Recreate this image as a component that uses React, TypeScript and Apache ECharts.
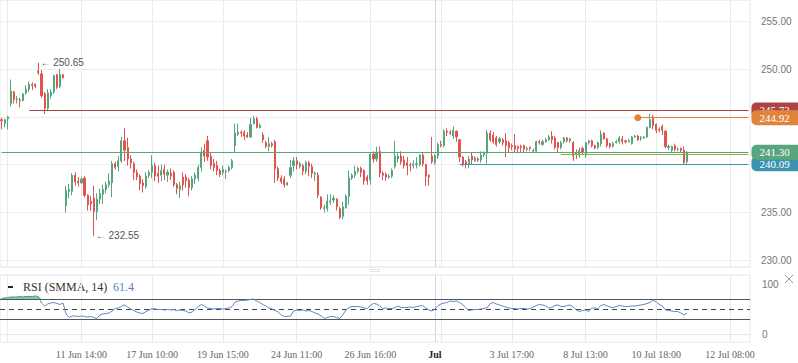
import React, { useEffect, useRef } from 'react';
import * as echarts from 'echarts';

// [open, close, low, high]
const candlesA: number[][] = [
  [244.7, 244.6, 243.7, 244.9], [244.3, 244.7, 243.9, 244.8], [244.8, 245.0, 243.7, 245.1],
  [246.4, 247.7, 246.1, 248.9], [247.6, 246.8, 246.4, 247.7], [246.8, 246.9, 246.4, 247.2],
  [246.8, 246.7, 246.0, 247.0], [246.7, 247.4, 246.6, 247.5], [247.5, 247.9, 247.3, 248.3],
  [247.9, 248.4, 247.6, 248.7], [248.4, 248.3, 247.8, 248.6], [248.4, 248.2, 248.0, 248.5],
  [249.8, 249.6, 249.4, 250.65], [249.5, 247.2, 247.0, 249.9], [247.4, 245.9, 245.3, 247.6],
  [245.9, 247.5, 245.6, 247.9], [247.2, 247.6, 246.9, 247.9], [247.6, 249.3, 247.4, 249.4],
  [249.4, 248.1, 247.9, 249.5], [248.2, 249.4, 248.0, 250.0], [249.4, 249.1, 249.0, 249.5],
];
const candlesB: number[][] = [
  [235.7, 237.3, 235.0, 237.8], [237.2, 237.4, 236.5, 238.0], [237.2, 238.9, 236.8, 239.1],
  [238.9, 238.2, 237.8, 239.2], [238.3, 238.1, 237.7, 238.7], [238.1, 238.5, 238.0, 238.7],
  [238.6, 236.8, 236.6, 238.8], [236.8, 235.8, 235.2, 236.9], [236.2, 235.9, 235.2, 236.7],
  [236.5, 235.1, 232.55, 237.8], [235.1, 236.4, 234.2, 237.0], [236.4, 237.0, 235.9, 237.5],
  [236.9, 237.4, 235.9, 237.9], [237.4, 237.9, 237.0, 238.2], [237.9, 238.3, 237.6, 239.1],
  [238.1, 240.1, 236.6, 240.4], [240.1, 239.7, 239.5, 240.3], [239.8, 240.4, 239.3, 240.9],
  [240.4, 242.5, 240.2, 242.9], [242.5, 241.5, 240.4, 243.8], [241.8, 240.6, 239.9, 242.8],
  [240.6, 240.2, 239.6, 241.0], [240.1, 239.2, 238.4, 240.3], [239.2, 238.7, 238.4, 239.5],
  [238.8, 238.0, 237.3, 239.0], [238.1, 237.8, 237.1, 238.5], [237.7, 238.8, 237.5, 239.2],
  [238.9, 239.2, 238.6, 239.4], [239.2, 239.9, 238.6, 241.0], [239.9, 238.8, 238.3, 240.2],
  [239.1, 238.8, 238.1, 239.9], [238.9, 239.4, 238.3, 240.0], [239.5, 239.0, 238.4, 240.0],
  [238.9, 239.2, 238.2, 239.5], [239.1, 238.8, 238.4, 239.6], [239.2, 237.9, 237.7, 239.4],
  [237.9, 237.5, 236.9, 238.1], [237.4, 237.8, 236.5, 238.2], [238.7, 237.9, 237.3, 239.2],
  [238.7, 238.3, 237.6, 239.0], [238.4, 237.6, 236.7, 238.6], [237.6, 238.5, 237.3, 238.8],
  [238.5, 238.9, 238.0, 239.2], [238.6, 239.7, 238.3, 240.0], [239.7, 241.3, 239.3, 241.8],
  [241.5, 240.9, 240.3, 242.2], [242.5, 240.8, 240.4, 243.0], [240.9, 239.9, 239.5, 241.2],
  [240.1, 239.7, 239.3, 240.6], [239.9, 239.4, 238.9, 240.4], [239.4, 239.0, 238.7, 239.6],
  [239.2, 239.5, 238.9, 239.9], [239.3, 239.3, 238.5, 239.5], [239.4, 239.7, 239.2, 239.9],
  [239.7, 240.4, 239.5, 240.6],
];
const candlesC: number[][] = [
  [242.0, 243.3, 241.3, 244.3], [243.2, 243.4, 243.0, 244.3], [243.4, 243.3, 242.9, 243.6],
  [243.4, 243.0, 242.6, 243.6], [243.1, 242.9, 242.8, 243.4], [242.9, 244.2, 242.8, 244.9],
  [244.3, 244.8, 244.2, 245.1], [244.8, 243.9, 243.8, 245.0], [243.9, 244.1, 243.8, 244.3],
  [243.1, 242.6, 242.3, 243.4], [242.3, 241.9, 241.7, 242.5], [241.9, 242.2, 241.4, 242.9],
  [242.2, 242.0, 241.8, 242.4], [242.4, 239.6, 238.1, 242.6], [239.6, 238.6, 238.3, 239.8],
  [238.6, 238.2, 238.0, 238.9], [238.5, 237.9, 237.6, 238.8], [237.9, 238.1, 237.8, 238.2],
  [238.9, 239.7, 238.6, 240.5], [239.9, 240.4, 239.3, 240.8], [240.4, 240.0, 239.5, 240.8],
  [239.8, 240.1, 239.6, 240.3], [239.9, 239.3, 238.9, 240.1], [239.3, 240.2, 239.0, 240.4],
  [240.2, 239.8, 238.8, 240.4], [239.8, 239.1, 238.6, 240.1], [239.0, 239.1, 238.3, 239.3],
  [238.9, 236.8, 236.5, 239.2], [236.6, 235.5, 235.3, 236.7], [235.4, 235.5, 235.0, 235.8],
  [235.4, 236.2, 235.1, 236.9], [236.1, 236.2, 235.8, 236.9], [236.3, 236.5, 236.0, 236.8],
  [236.4, 235.6, 235.2, 236.5], [235.4, 234.5, 234.3, 235.6], [234.6, 235.6, 234.3, 236.1],
  [235.5, 236.7, 235.4, 236.9], [236.7, 238.6, 235.8, 239.4], [238.6, 238.9, 238.4, 239.1],
  [238.9, 239.3, 238.6, 239.9], [239.3, 239.6, 239.1, 239.8], [239.6, 239.2, 238.7, 239.8],
  [239.4, 238.3, 237.9, 239.5], [238.7, 238.3, 237.9, 238.9], [238.4, 241.1, 237.9, 241.2],
];
const candlesD: number[][] = [
  [241.1, 240.6, 240.2, 241.4], [240.6, 241.3, 240.3, 241.9], [241.4, 239.1, 238.7, 241.9],
  [239.1, 238.9, 238.4, 239.3], [239.0, 238.7, 238.3, 239.2], [238.7, 238.8, 238.5, 239.0],
  [238.8, 239.4, 238.6, 239.6], [239.8, 240.9, 239.6, 242.5], [240.6, 240.9, 240.2, 241.2],
  [240.9, 240.3, 240.0, 241.4], [240.5, 239.9, 239.6, 240.9], [240.2, 239.9, 238.9, 240.8],
  [240.0, 239.9, 239.3, 240.2], [239.9, 240.1, 239.6, 240.5], [240.0, 240.1, 239.6, 240.8],
  [240.0, 241.0, 239.8, 241.1], [241.0, 240.1, 239.8, 241.3], [240.0, 238.8, 237.8, 240.1],
  [238.9, 238.7, 237.8, 239.0], [240.9, 240.3, 240.1, 242.9], [240.2, 240.9, 240.0, 241.1],
  [240.9, 242.1, 240.6, 242.3], [242.1, 242.0, 241.8, 242.5], [242.0, 243.5, 241.8, 243.7],
  [243.5, 243.4, 243.0, 243.8], [243.4, 243.3, 243.1, 243.6], [243.0, 243.6, 242.7, 244.0],
  [243.5, 242.9, 242.4, 243.6], [242.6, 240.8, 240.3, 242.7], [240.8, 240.0, 239.8, 240.9],
  [240.3, 240.1, 239.6, 240.5], [240.0, 240.6, 239.6, 240.9], [240.9, 240.5, 240.0, 241.3],
  [240.4, 240.7, 240.3, 240.9], [240.6, 240.5, 240.3, 240.8], [240.5, 241.0, 240.2, 241.4],
  [241.0, 241.2, 240.8, 241.4], [241.2, 243.3, 240.1, 243.6], [243.3, 242.6, 242.4, 243.6],
  [243.1, 242.4, 242.2, 243.4], [242.8, 242.1, 241.9, 243.0], [242.4, 242.7, 242.2, 242.9],
  [242.6, 242.3, 242.0, 242.8], [242.5, 242.0, 240.8, 243.3], [242.3, 241.8, 241.3, 242.5],
  [242.0, 241.9, 241.5, 242.2], [242.0, 241.6, 241.3, 243.2], [241.9, 241.7, 241.2, 242.0],
  [241.9, 241.8, 241.2, 242.1], [242.0, 241.6, 241.3, 242.1], [241.6, 241.7, 241.4, 241.9],
  [241.8, 241.7, 241.4, 241.9], [241.4, 241.5, 241.2, 241.7], [241.4, 242.4, 241.2, 242.5],
  [242.4, 242.3, 242.1, 242.6], [242.1, 242.4, 242.0, 242.6], [242.4, 242.6, 242.3, 242.8],
  [242.6, 242.9, 242.5, 243.1], [243.0, 242.6, 242.2, 243.5], [242.8, 241.8, 241.6, 243.0],
  [242.3, 241.8, 241.3, 242.4], [241.8, 242.3, 241.6, 242.5],
];
const candlesE: number[][] = [
  [242.4, 242.8, 242.2, 242.9], [242.8, 242.5, 242.3, 242.9], [242.5, 242.7, 242.3, 242.8],
  [242.3, 240.9, 240.4, 242.5], [241.2, 241.1, 240.6, 241.6], [241.0, 241.5, 240.7, 241.8],
  [241.7, 241.3, 241.0, 241.9], [241.0, 242.3, 240.7, 242.4], [242.3, 242.5, 242.1, 242.6],
  [242.5, 242.0, 241.8, 242.6], [242.0, 241.8, 241.6, 242.1], [241.8, 242.3, 241.6, 242.4],
  [242.2, 243.2, 241.9, 243.6], [243.3, 242.7, 242.6, 243.4], [242.7, 242.0, 241.8, 242.8],
  [242.2, 241.9, 241.7, 242.3], [241.9, 242.2, 241.8, 242.4], [242.3, 242.4, 242.2, 242.6],
  [242.4, 242.8, 242.2, 243.0], [242.7, 242.4, 242.1, 243.0], [242.5, 242.4, 242.2, 242.6],
  [242.4, 242.5, 242.3, 242.7], [242.2, 242.9, 242.1, 243.0], [242.9, 243.0, 242.8, 243.1],
  [243.0, 242.6, 242.5, 243.1], [242.7, 242.8, 242.5, 243.0], [242.8, 242.9, 242.7, 243.0],
  [242.9, 243.9, 242.8, 244.0], [243.9, 244.7, 243.8, 245.3], [245.0, 244.1, 243.7, 245.2],
  [244.2, 243.6, 243.3, 244.3], [243.7, 243.6, 243.4, 243.9], [244.0, 243.6, 243.1, 244.2],
  [243.5, 241.9, 241.7, 243.6], [241.8, 241.9, 241.5, 242.1], [241.5, 241.9, 241.3, 242.0],
  [242.0, 241.6, 241.4, 242.2], [241.6, 241.6, 241.4, 241.8], [241.7, 241.5, 241.3, 241.8],
  [241.5, 240.2, 240.09, 241.9], [240.3, 241.3, 240.1, 241.4],
];

const rsiValues: number[] = [
  71, 72, 73, 74, 74, 74, 75, 74, 75, 75, 75, 76, 75, 62, 56, 60, 62, 63, 61, 59, 62,
  40, 33, 36, 36, 35, 36, 35, 34, 35, 33, 31, 38, 40, 41, 42, 46, 51, 52, 55, 58,
  54, 50, 47, 44, 42, 41, 45, 48, 51, 50, 49, 49, 48, 49, 48, 49, 47, 48, 47, 46,
  42, 44, 49, 55, 59, 56, 52, 51, 50, 51, 51, 50, 51, 52, 55, 64, 66, 67, 67, 68,
  69, 70, 66, 63, 59, 56, 52, 50, 47, 44, 38, 35, 35, 36, 46, 48, 47, 48, 46, 47,
  45, 42, 40, 36, 31, 33, 35, 35, 33, 31, 38, 48, 53, 55, 55, 55, 54, 52, 51, 57,
  61, 60, 56, 51, 52, 51, 51, 53, 56, 53, 53, 53, 54, 53, 55, 56, 57, 52, 48, 46,
  50, 57, 60, 62, 63, 66, 65, 66, 63, 59, 53, 47, 48, 49, 49, 50, 51, 53, 61, 63,
  60, 58, 56, 54, 52, 51, 51, 50, 51, 51, 50, 51, 54, 57, 59, 58, 56, 52, 53, 57,
  58, 55, 55, 57, 58, 54, 48, 45, 47, 48, 45, 52, 52, 51, 57, 59, 56, 54, 53, 55,
  57, 56, 55, 55, 56, 56, 57, 58, 59, 61, 63, 68, 64, 59, 56, 48, 47, 46, 45, 45, 42, 38, 42,
];
const rsiLast = 61.4;
const rsiLevels = [70, 50, 30];

const tickIndex = [26, 49, 72, 96, 120, 141, 166, 190, 213, 237];
const tickLabels = ['11 Jun 14:00', '17 Jun 10:00', '19 Jun 15:00', '24 Jun 11:00', '26 Jun 16:00', 'Jul', '3 Jul 17:00', '8 Jul 13:00', '10 Jul 18:00', '12 Jul 08:00'];
const gridLineIndex = [2, 26, 49, 72, 96, 120, 143, 166, 190, 213, 237];
const monthLineIndex = 141;

const priceTicks = [230, 235, 250, 255];
const rsiTicks = [0, 100];

const levelValues = [245.73, 244.92, 241.04, 240.09, 241.3];
const levelStartIndex = [9, 207, 182, 149, 0];
const levelTagged = [true, true, false, true, true];
const levelColors = ['#ad4543', '#e0843c', '#8cb23c', '#3b93ae', '#58a67d'];

const annotationIndex = [12, 30];
const annotationValues = [250.65, 232.55];

const slotCount = 244;

export default function App() {
  const ref = useRef<HTMLDivElement>(null);
  useEffect(() => {
    if (!ref.current) return;
    const chart = echarts.init(ref.current, null, { renderer: 'svg' });
    const candles = [...candlesA, ...candlesB, ...candlesC, ...candlesD, ...candlesE];
    const categories = Array.from({ length: slotCount }, (_, i) => `bar${i}`);
    const up = '#55a57d';
    const down = '#e0544f';
    const vGrid = [
      ...gridLineIndex.map((i) => ({ xAxis: categories[i], lineStyle: { color: '#e8ebee', width: 1, type: 'solid' } })),
      { xAxis: categories[monthLineIndex], lineStyle: { color: '#d2d5d9', width: 1, type: 'solid' } },
    ];
    const levelData = levelValues.map((v, k) => {
      const color = levelColors[k];
      return [
        {
          coord: [categories[levelStartIndex[k]], v],
          symbol: k === 1 ? 'circle' : 'none',
          symbolSize: 7,
          itemStyle: { color },
          lineStyle: { color, width: 1, type: 'solid' },
          label: levelTagged[k]
            ? {
                show: true,
                position: 'end',
                distance: 3,
                formatter: v.toFixed(2),
                color: '#fff',
                backgroundColor: color,
                fontSize: 11,
                fontFamily: 'Liberation Serif',
                lineHeight: 12,
                padding: [2, 12, 1, 8],
                borderRadius: [5, 0, 0, 5],
              }
            : { show: false },
        },
        { coord: [categories[slotCount - 1], v], symbol: 'none' },
      ];
    });
    const labelFor = (i: number) => {
      const k = tickIndex.indexOf(i);
      if (k < 0) return '';
      const t = tickLabels[k];
      return t === 'Jul' ? '{m|Jul}' : t;
    };

    const option: any = {
      animation: false,
      backgroundColor: '#ffffff',
      grid: [
        { left: -1, width: 751, top: -1, height: 268, show: true, borderColor: '#e3e6e9', borderWidth: 1 },
        { left: -1, width: 751, top: 275, height: 67, show: true, borderColor: '#e3e6e9', borderWidth: 1 },
      ],
      xAxis: [
        {
          type: 'category', gridIndex: 0, data: categories, boundaryGap: true,
          axisLine: { show: false }, axisTick: { show: false }, axisLabel: { show: false }, splitLine: { show: false },
        },
        {
          type: 'category', gridIndex: 1, data: categories, boundaryGap: true,
          axisLine: { show: false }, axisTick: { show: false }, splitLine: { show: false },
          axisLabel: {
            interval: (i: number) => tickIndex.includes(i),
            formatter: (_v: string, i: number) => labelFor(i),
            color: '#666', fontSize: 10, fontFamily: 'Liberation Serif', margin: 7,
            rich: { m: { fontWeight: 'bold', color: '#222', fontSize: 10, fontFamily: 'Liberation Serif' } },
          },
        },
      ],
      yAxis: [
        {
          type: 'value', gridIndex: 0, position: 'right', min: 229.3, max: 257.22,
          axisLine: { show: false }, axisTick: { show: false },
          splitLine: { show: true, lineStyle: { color: '#eceff2' } },
          axisLabel: {
            customValues: priceTicks,
            formatter: (v: number) => (priceTicks.includes(Math.round(v * 100) / 100) ? v.toFixed(2) : ''),
            color: '#777', fontSize: 10, fontFamily: 'Liberation Sans', margin: 11,
          },
        },
        {
          type: 'value', gridIndex: 1, position: 'right', min: -16, max: 118,
          axisLine: { show: false }, axisTick: { show: false }, splitLine: { show: false },
          axisLabel: {
            customValues: rsiTicks,
            formatter: (v: number) => (rsiTicks.includes(v) ? String(v) : ''),
            color: '#777', fontSize: 10, fontFamily: 'Liberation Sans', margin: 12,
          },
        },
      ],
      series: [
        {
          type: 'candlestick', name: 'price', xAxisIndex: 0, yAxisIndex: 0, data: candles,
          barWidth: 1.6, z: 2,
          itemStyle: { color: up, color0: down, borderColor: up, borderColor0: down, borderColorDoji: '#888', borderWidth: 1 },
          markLine: { silent: true, z: 1, symbol: ['none', 'none'], label: { show: false }, data: vGrid },
          markPoint: {
            silent: true, symbol: 'circle', symbolSize: 0,
            label: { show: true, position: 'right', distance: 2, color: '#555', fontSize: 10, fontFamily: 'Liberation Sans' },
            data: annotationIndex.map((i, k) => ({
              coord: [categories[i], annotationValues[k]],
              label: { formatter: '\u2190 ' + annotationValues[k].toFixed(2) },
            })),
          },
        },
        {
          type: 'line', name: 'levels', xAxisIndex: 0, yAxisIndex: 0, data: [], z: 4,
          markLine: { silent: true, z: 6, symbol: ['none', 'none'], data: levelData },
        },
        {
          type: 'line', name: 'obBase', xAxisIndex: 1, yAxisIndex: 1, stack: 'ob', symbol: 'none',
          data: rsiValues.map(() => rsiLevels[0]), lineStyle: { opacity: 0 }, z: 1,
        },
        {
          type: 'line', name: 'obFill', xAxisIndex: 1, yAxisIndex: 1, stack: 'ob', symbol: 'none',
          data: rsiValues.map((v) => Math.max(0, v - rsiLevels[0])), lineStyle: { opacity: 0 },
          areaStyle: { color: '#7fd57f', opacity: 1 }, z: 1,
        },
        {
          type: 'line', name: 'RSI', xAxisIndex: 1, yAxisIndex: 1, data: rsiValues, symbol: 'none', showSymbol: false,
          lineStyle: { color: '#5b86c5', width: 1 }, z: 3,
          markLine: {
            silent: true, z: 1, symbol: ['none', 'none'], label: { show: false },
            data: [
              ...vGrid,
              { yAxis: 0, lineStyle: { color: '#e6e9ec', width: 1, type: 'solid' } },
              { yAxis: rsiLevels[0], lineStyle: { color: '#555', width: 1, type: 'solid' } },
              { yAxis: rsiLevels[1], lineStyle: { color: '#444', width: 1, type: [5, 4] } },
              { yAxis: rsiLevels[2], lineStyle: { color: '#555', width: 1, type: 'solid' } },
            ],
          },
        },
      ],
      graphic: [
        { type: 'rect', shape: { x: 7, y: 286, width: 6, height: 2 }, style: { fill: '#222' } },
        { type: 'text', x: 23, y: 287, style: { text: 'RSI (SMMA, 14)', fontSize: 12, fontFamily: 'Liberation Serif', fill: '#333', verticalAlign: 'middle' } },
        { type: 'text', x: 113, y: 287, style: { text: rsiLast.toFixed(1), fontSize: 12, fontFamily: 'Liberation Serif', fill: '#5a7fbf', verticalAlign: 'middle' } },
        { type: 'line', shape: { x1: 370, y1: 269.5, x2: 380, y2: 269.5 }, style: { stroke: '#dfe2e6', lineWidth: 1 } },
        { type: 'line', shape: { x1: 370, y1: 271.5, x2: 380, y2: 271.5 }, style: { stroke: '#dfe2e6', lineWidth: 1 } },
        { type: 'line', shape: { x1: 785, y1: 275, x2: 793, y2: 283 }, style: { stroke: '#999', lineWidth: 1 } },
        { type: 'line', shape: { x1: 793, y1: 275, x2: 785, y2: 283 }, style: { stroke: '#999', lineWidth: 1 } },
      ],
    };
    chart.setOption(option);
    return () => chart.dispose();
  }, []);
  return <div ref={ref} style={{ position: 'fixed', left: 0, top: 0, width: 798, height: 363, background: '#fff' }} />;
}
